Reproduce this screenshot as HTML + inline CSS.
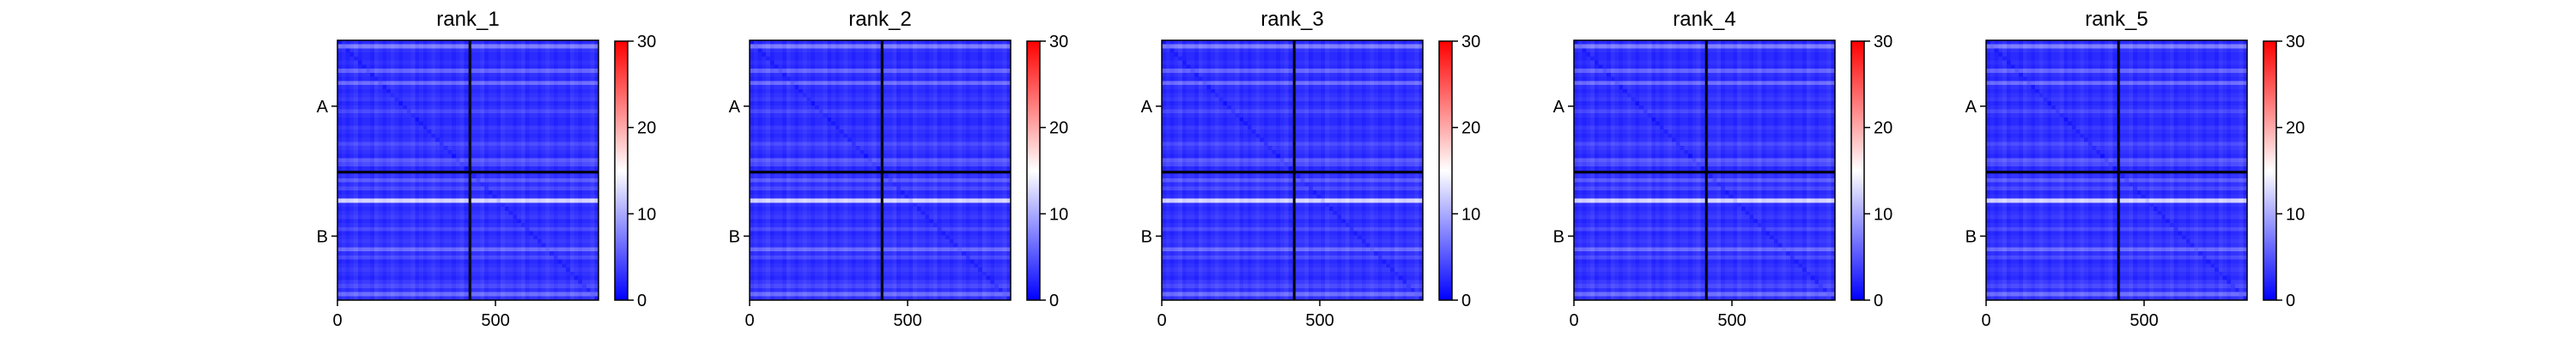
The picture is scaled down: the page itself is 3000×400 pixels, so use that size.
<!DOCTYPE html>
<html><head><meta charset="utf-8"><style>
html,body{margin:0;padding:0;background:#fff;}
svg{display:block;font-family:"Liberation Sans","DejaVu Sans",sans-serif;}
</style></head><body>
<svg id="fig" width="3000" height="400" viewBox="0 0 3000 400" xmlns="http://www.w3.org/2000/svg">
<defs>
<linearGradient id="bwr" x1="0" y1="1" x2="0" y2="0">
<stop offset="0" stop-color="#0000ff"/><stop offset="0.5" stop-color="#ffffff"/><stop offset="1" stop-color="#ff0000"/>
</linearGradient>
</defs>
</svg>
<script>
const panelTitles = ["rank_1","rank_2","rank_3","rank_4","rank_5"];
const xTickValues = [0, 500];
const xTickLabels = ["0","500"];
const yTickLabels = ["A","B"];
const cbarTicks = [0,10,20,30];
const dataExtent = 826;
const blockSplit = 419;
const vmin = 0, vmax = 30;
// row streak intensities (64 rows, top to bottom)
const rowValues = [2,7,2.5,2,2,2.5,2,5.5,2.5,2,6,2.5,2,2.5,3,2,2.5,4,2.5,2,2,3,2.5,2,2.5,4,3,2.5,2,5,4,2,
                   2,2.5,5,2.5,4,2,2.5,12,2.5,2,2.5,3,2,2.5,4,2,2.5,3,2.5,6,2.5,4,2,2.5,3,2.5,2,3,4,2.5,6,2.5];
// column streak intensities (64 cols, left to right)
const colValues = [0,0.5,0,0.5,1,0,0.5,0.5,0,1,0.5,0,0.5,1,0.5,0,0.5,0.5,1,0,0.5,0,0.5,1,0.5,0,0.5,0.5,0,0.5,1,0,
                   0,0.5,0.5,1,0,0.5,0.5,0,1,0.5,0.5,0,0.5,1,0,0.5,0.5,0,0.5,1,0.5,0,0.5,0.5,0,1,0.5,0,0.5,0.5,1,0];
const diagDrop = 1;

const NS = "http://www.w3.org/2000/svg";
const svg = document.getElementById('fig');
function mk(tag, attrs, parent){const e=document.createElementNS(NS,tag);for(const k in attrs)e.setAttribute(k,attrs[k]);(parent||svg).appendChild(e);return e;}
function bwr(v){let t=Math.max(0,Math.min(1,(v-vmin)/(vmax-vmin)));let r,g,b;
 if(t<0.5){const s=t/0.5;r=Math.round(255*s);g=r;b=255;}else{const s=(t-0.5)/0.5;r=255;g=Math.round(255*(1-s));b=g;}
 return `rgb(${r},${g},${b})`;}

panelTitles.forEach((title,i)=>{
  const ox = 480*i;
  const x0=393+ox, y0=47, w=304, h=303;
  const sx = v => x0 + v/dataExtent*w;
  const sy = v => y0 + v/dataExtent*h;
  const g = mk('g',{});
  
  
  const t = mk('text',{x:x0+w/2,y:30,'font-size':24,'text-anchor':'middle',fill:'#000'},g);
  t.textContent=title;
  
  
  const nr=rowValues.length, nc=colValues.length;
  const cw=w/nc, ch=h/nr;
  const cells = mk('g',{'shape-rendering':'crispEdges'},g);
  
  
  for(let r=0;r<nr;r++){for(let c=0;c<nc;c++){
    let v = rowValues[r]+colValues[c];
    if(r===c) v = Math.max(0, v-diagDrop);
    mk('rect',{x:x0+c*cw,y:y0+r*ch,width:cw+0.6,height:ch+0.6,fill:bwr(v)},cells);
  }}
  const dv = mk('line',{x1:sx(blockSplit),x2:sx(blockSplit),y1:y0,y2:y0+h,stroke:'#000','stroke-width':3},g);
  
  
  const dh = mk('line',{x1:x0,x2:x0+w,y1:sy(blockSplit),y2:sy(blockSplit),stroke:'#000','stroke-width':3},g);
  
  
  const fr = mk('rect',{x:x0,y:y0,width:w,height:h,fill:'none',stroke:'#000','stroke-width':1.5},g);
  
  
  xTickValues.forEach((v,k)=>{
    mk('line',{x1:sx(v),x2:sx(v),y1:y0+h,y2:y0+h+7,stroke:'#000','stroke-width':1.5},g);
    const tl=mk('text',{x:sx(v),y:y0+h+30,'font-size':20,'text-anchor':'middle'},g);
    tl.textContent=xTickLabels[k];
    
    
  });
  const centers=[blockSplit/2,(blockSplit+dataExtent)/2];
  centers.forEach((v,k)=>{
    mk('line',{x1:x0-7,x2:x0,y1:sy(v),y2:sy(v),stroke:'#000','stroke-width':1.5},g);
    const tl=mk('text',{x:x0-11,y:sy(v)+7,'font-size':20,'text-anchor':'end'},g);
    tl.textContent=yTickLabels[k];
    
    
  });
  const cx=716+ox, cy0=48, cy1=350;
  const cb=mk('rect',{x:cx,y:cy0,width:15,height:cy1-cy0,fill:'url(#bwr)',stroke:'#000','stroke-width':1.5},g);
  
  
  cbarTicks.forEach(v=>{
    const y=cy1-(v-vmin)/(vmax-vmin)*(cy1-cy0);
    mk('line',{x1:cx+15,x2:cx+22,y1:y,y2:y,stroke:'#000','stroke-width':1.5},g);
    const tl=mk('text',{x:cx+26,y:y+7,'font-size':20},g);
    tl.textContent=String(v);
    
    
  });
});
</script>
</body></html>
